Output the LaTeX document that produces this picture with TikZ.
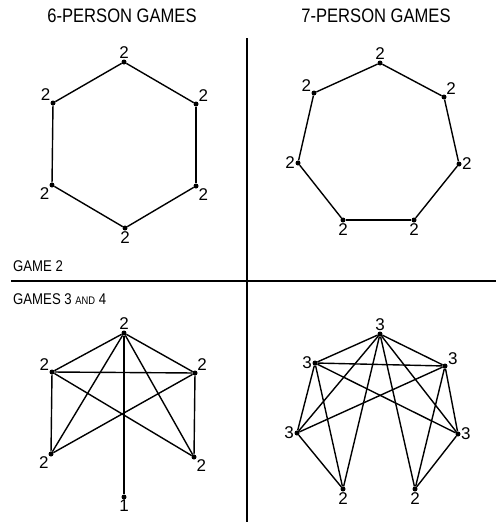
\documentclass[tikz,border=0pt]{standalone}
\usepackage{fontspec}
\setmainfont{Liberation Sans}
\newcommand\squeeze[1]{\scalebox{0.85}[1]{#1}}

\begin{document}
\begin{tikzpicture}
 [x=1pt, y=1pt,
  dot/.style={circle, fill=black, inner sep=0pt, minimum size=5pt},
  every label/.style={font=\fontsize{17}{17}\selectfont, inner sep=0.3pt},
  label distance=0pt,
  link/.style={line width=1.4pt},
  rule/.style={line width=1.6pt},
  title/.style={font=\fontsize{19.5}{19.5}\selectfont, inner sep=0pt},
  caption/.style={font=\fontsize{15.5}{15.5}\selectfont, inner sep=0pt, anchor=west}]

\useasboundingbox (0,0) rectangle (496,-522);

% headings
\node[title] (t6) at (122,-16) {\squeeze{6-PERSON GAMES}};
\node[title] (t7) at (376,-16) {\squeeze{7-PERSON GAMES}};
\node[caption] (g2) at (13,-266) {\squeeze{GAME 2}};
\node[caption] (g34) at (13,-299) {\squeeze{GAMES 3 {\fontsize{11}{11}\selectfont AND} 4}};

% dividers
\coordinate (vtop) at (247,-38);
\coordinate (vbot) at (247,-522);
\coordinate (hl) at (11,-281);
\coordinate (hr) at (496,-281);
\draw[rule] (vtop) -- (vbot);
\draw[rule] (hl) -- (hr);

% 6-person, game 2
\node[dot, label=above:2] (h1) at (124,-62) {};
\node[dot, label=40:2] (h2) at (196,-104) {};
\node[dot, label=-40:2] (h3) at (196,-186) {};
\node[dot, label=below:2] (h4) at (125,-228) {};
\node[dot, label=220:2] (h5) at (52,-185) {};
\node[dot, label=145:2] (h6) at (53,-103) {};

\path[link]
  (h1) edge (h2)
  (h2) edge (h3)
  (h3) edge (h4)
  (h4) edge (h5)
  (h5) edge (h6)
  (h6) edge (h1);

% 7-person, game 2
\node[dot, label=above:2] (p1) at (380,-63) {};
\node[dot, label=45:2] (p2) at (444,-97) {};
\node[dot, label=right:2] (p3) at (459,-164) {};
\node[dot, label=below:2] (p4) at (414,-220) {};
\node[dot, label=below:2] (p5) at (343,-220) {};
\node[dot, label=left:2] (p6) at (298,-163) {};
\node[dot, label=150:2] (p7) at (314,-93) {};

\path[link]
  (p1) edge (p2)
  (p2) edge (p3)
  (p3) edge (p4)
  (p4) edge (p5)
  (p5) edge (p6)
  (p6) edge (p7)
  (p7) edge (p1);

% 6-person, games 3 and 4
\node[dot, label=above:2] (a1) at (124,-333) {};
\node[dot, label=45:2] (a2) at (195,-373) {};
\node[dot, label=-40:2] (a3) at (194,-457) {};
\node[dot, label=225:2] (a4) at (51,-454) {};
\node[dot, label=150:2] (a5) at (52,-372) {};
\node[dot, label=below:1] (a6) at (124,-497) {};

\path[link]
  (a1) edge (a2)
  (a1) edge (a3)
  (a1) edge (a4)
  (a1) edge (a5)
  (a1) edge (a6)
  (a5) edge (a2)
  (a5) edge (a4)
  (a5) edge (a3)
  (a2) edge (a4)
  (a2) edge (a3);

% 7-person, games 3 and 4
\node[dot, label=above:3] (b1) at (380,-334) {};
\node[dot, label=20:3] (b2) at (445,-366) {};
\node[dot, label=right:3] (b3) at (458,-434) {};
\node[dot, label=below:2] (b4) at (415,-489) {};
\node[dot, label=below:2] (b5) at (343,-489) {};
\node[dot, label=left:3] (b6) at (297,-433) {};
\node[dot, label=left:3] (b7) at (315,-363) {};

\path[link]
  (b1) edge (b2)
  (b1) edge (b3)
  (b1) edge (b4)
  (b1) edge (b5)
  (b1) edge (b6)
  (b1) edge (b7)
  (b7) edge (b2)
  (b7) edge (b6)
  (b7) edge (b3)
  (b7) edge (b5)
  (b2) edge (b6)
  (b2) edge (b3)
  (b2) edge (b4)
  (b6) edge (b5)
  (b3) edge (b4);

\end{tikzpicture}
\end{document}
